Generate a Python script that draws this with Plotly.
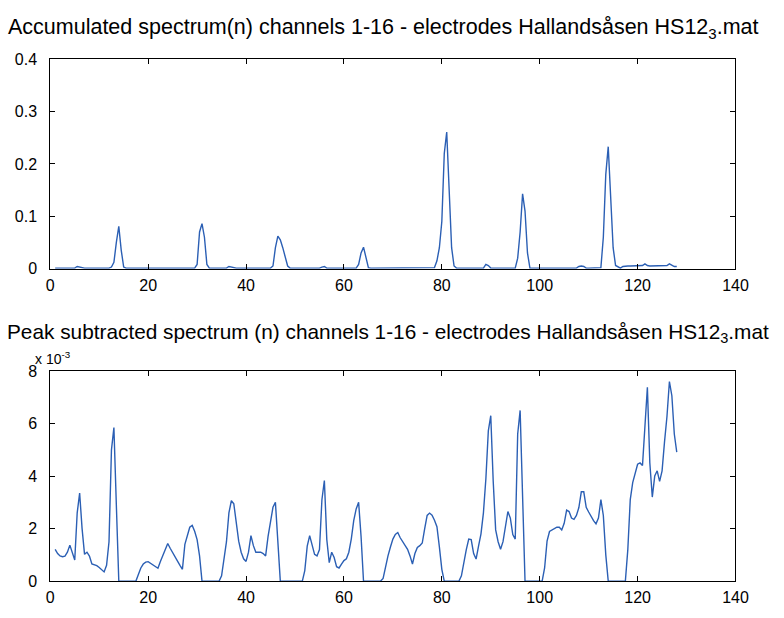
import plotly.graph_objects as go

# sample index n (half-channel steps 1..128)
n = [1 + 0.5 * i for i in range(255)]

# Accumulated spectrum (top), keyed by n
top_peaks = {
    5.5: 0.004, 6.0: 0.003,
    12.5: 0.003, 13.0: 0.012, 13.5: 0.05, 14.0: 0.081, 14.5: 0.035, 15.0: 0.003,
    30.0: 0.008, 30.5: 0.07, 31.0: 0.086, 31.5: 0.06, 32.0: 0.008,
    36.5: 0.004, 37.0: 0.003,
    45.5: 0.005, 46.0: 0.04, 46.5: 0.062, 47.0: 0.055, 47.5: 0.04, 48.0: 0.02, 48.5: 0.005,
    55.5: 0.003, 56.0: 0.004,
    63.0: 0.008, 63.5: 0.03, 64.0: 0.041, 64.5: 0.02, 65.0: 0.002,
    78.5: 0.002, 79.0: 0.015, 79.5: 0.04, 80.0: 0.09, 80.5: 0.22, 81.0: 0.261, 81.5: 0.135,
    82.0: 0.04, 82.5: 0.005,
    89.0: 0.008, 89.5: 0.006,
    95.5: 0.02, 96.0: 0.07, 96.5: 0.143, 97.0: 0.11, 97.5: 0.03,
    108.0: 0.004, 108.5: 0.005, 109.0: 0.004,
    112.5: 0.002, 113.0: 0.06, 113.5: 0.18, 114.0: 0.233, 114.5: 0.12, 115.0: 0.04,
    115.5: 0.006, 116.0: 0.003, 116.5: 0.001, 117.0: 0.004, 117.5: 0.005, 118.0: 0.005,
    118.5: 0.005, 119.0: 0.005, 119.5: 0.005, 120.0: 0.005, 120.5: 0.005, 121.0: 0.006,
    121.5: 0.009, 122.0: 0.006, 122.5: 0.005, 123.0: 0.005, 123.5: 0.005, 124.0: 0.005,
    124.5: 0.005, 125.0: 0.005, 125.5: 0.005, 126.0: 0.006, 126.5: 0.009, 127.0: 0.006,
    127.5: 0.004, 128.0: 0.004,
}
top_base = 0.001
accumulated = [top_peaks.get(v, top_base) for v in n]

# Peak subtracted spectrum (bottom), in units of 1e-3, 0.5 steps from n=1
subtracted = [
    1.21, 1.05, 0.96, 0.93, 0.95, 1.10, 1.37, 1.05, 0.80, 2.60,   # 1 - 5.5
    3.35, 2.00, 1.02, 1.10, 0.95, 0.65, 0.62, 0.59, 0.52, 0.44,   # 6 - 10.5
    0.35, 0.60, 1.50, 5.00, 5.85, 2.90, 0.00, 0.00, 0.00, 0.00,   # 11 - 15.5
    0.00, 0.00, 0.00, 0.00, 0.25, 0.50, 0.65, 0.72, 0.74, 0.68,   # 16 - 20.5
    0.62, 0.55, 0.49, 0.75, 1.00, 1.25, 1.43, 1.25, 1.07, 0.90,   # 21 - 25.5
    0.76, 0.60, 0.45, 1.40, 1.72, 2.05, 2.12, 1.90, 1.58, 0.96,   # 26 - 30.5
    0.00, 0.00, 0.00, 0.00, 0.00, 0.00, 0.00, 0.00, 0.20, 0.90,   # 31 - 35.5
    1.50, 2.60, 3.06, 2.94, 2.14, 1.52, 1.10, 0.85, 0.75, 1.10,   # 36 - 40.5
    1.73, 1.35, 1.10, 1.09, 1.10, 1.05, 0.96, 1.70, 2.32, 2.81,   # 41 - 45.5
    3.00, 1.40, 0.00, 0.00, 0.00, 0.00, 0.00, 0.00, 0.00, 0.00,   # 46 - 50.5
    0.00, 0.00, 0.40, 1.33, 1.73, 1.40, 1.02, 0.96, 1.20, 3.10,   # 51 - 55.5
    3.83, 1.58, 0.70, 1.10, 0.90, 0.55, 0.50, 0.65, 0.78, 0.85,   # 56 - 60.5
    1.10, 1.60, 2.30, 2.75, 3.00, 1.70, 0.00, 0.00, 0.00, 0.00,   # 61 - 65.5
    0.00, 0.00, 0.00, 0.00, 0.10, 0.60, 0.96, 1.30, 1.60, 1.78,   # 66 - 70.5
    1.85, 1.65, 1.50, 1.35, 1.21, 0.96, 0.65, 1.05, 1.28, 1.35,   # 71 - 75.5
    1.45, 2.00, 2.50, 2.59, 2.51, 2.32, 2.07, 1.30, 0.45, 0.00,   # 76 - 80.5
    0.00, 0.00, 0.00, 0.00, 0.00, 0.00, 0.20, 0.75, 1.20, 1.60,   # 81 - 85.5
    1.58, 1.05, 0.84, 1.33, 1.80, 2.60, 3.90, 5.72, 6.30, 3.80,   # 86 - 90.5
    1.95, 1.50, 1.21, 1.50, 2.00, 2.65, 2.40, 1.77, 1.60, 5.60,   # 91 - 95.5
    6.50, 3.00, 0.00, 0.00, 0.00, 0.00, 0.00, 0.00, 0.00, 0.00,   # 96 - 100.5
    0.50, 1.52, 1.89, 1.95, 1.98, 2.05, 2.05, 1.95, 2.20, 2.70,   # 101 - 105.5
    2.65, 2.40, 2.35, 2.50, 2.80, 3.40, 3.40, 2.81, 2.63, 2.44,   # 106 - 110.5
    2.30, 2.18, 2.40, 3.10, 2.50, 1.00, 0.00, 0.00, 0.00, 0.00,   # 111 - 115.5
    0.00, 0.00, 0.00, 0.00, 1.20, 3.10, 3.75, 4.10, 4.45, 4.50,   # 116 - 120.5
    4.40, 5.90, 7.38, 4.50, 3.20, 4.00, 4.20, 3.80, 4.20, 5.30,   # 121 - 125.5
    6.27, 7.60, 7.06, 5.60, 4.91,                                 # 126 - 128
]

top_title = "Accumulated spectrum(n) channels 1-16 - electrodes Hallandsåsen HS12<sub>3</sub>.mat"
bottom_title = "Peak subtracted spectrum (n) channels 1-16 - electrodes Hallandsåsen HS12<sub>3</sub>.mat"
x_ticks = [0, 20, 40, 60, 80, 100, 120, 140]
top_yticks = [0, 0.1, 0.2, 0.3, 0.4]
bottom_yticks = [0, 2, 4, 6, 8]

W, H = 784, 618
line_color = "#2b5fb4"
font = "Liberation Sans, Arial, sans-serif"

fig = go.Figure()
fig.add_trace(go.Scatter(x=n, y=accumulated, mode="lines",
                         line=dict(color=line_color, width=1.4), xaxis="x", yaxis="y"))
fig.add_trace(go.Scatter(x=n, y=subtracted, mode="lines",
                         line=dict(color=line_color, width=1.4), xaxis="x2", yaxis="y2"))

xdom = [47.3 / W, 747.7 / W]
axis_common = dict(showline=True, linecolor="black", linewidth=1, mirror="ticks",
                   ticks="inside", ticklen=5, tickcolor="black", showgrid=False,
                   zeroline=False, tickfont=dict(family=font, size=16, color="black"))

fig.update_layout(
    width=W, height=H,
    margin=dict(l=0, r=0, t=0, b=0),
    paper_bgcolor="white", plot_bgcolor="white",
    showlegend=False,
    xaxis=dict(domain=xdom, range=[0, 140], tickvals=x_ticks, anchor="y",
               ticklabelstandoff=2, **axis_common),
    yaxis=dict(domain=[(H - 268) / H, (H - 52.7) / H], range=[0, 0.4], tickvals=top_yticks,
               ticktext=["0", "0.1", "0.2", "0.3", "0.4"], anchor="x",
               ticklabelstandoff=9, **axis_common),
    xaxis2=dict(domain=xdom, range=[0, 140], tickvals=x_ticks, anchor="y2",
                ticklabelstandoff=2, **axis_common),
    yaxis2=dict(domain=[(H - 589.3) / H, (H - 373.3) / H], range=[0, 8], tickvals=bottom_yticks,
                anchor="x2", ticklabelstandoff=9, **axis_common),
    annotations=[
        dict(text=top_title, x=(12 + 763) / 2 / W, y=(H - 21) / H, xref="paper", yref="paper",
             xanchor="center", yanchor="middle", showarrow=False,
             font=dict(family=font, size=21.5, color="black")),
        dict(text="x 10<sup>-3</sup>", x=30 / W, y=(H - 360) / H, xref="paper", yref="paper",
             xanchor="left", yanchor="middle", showarrow=False,
             font=dict(family=font, size=14, color="black")),
        dict(text=bottom_title, x=393 / W, y=(H - 334) / H, xref="paper", yref="paper",
             xanchor="center", yanchor="middle", showarrow=False,
             font=dict(family=font, size=20.8, color="black")),
    ],
)

fig.write_html("out.html")
